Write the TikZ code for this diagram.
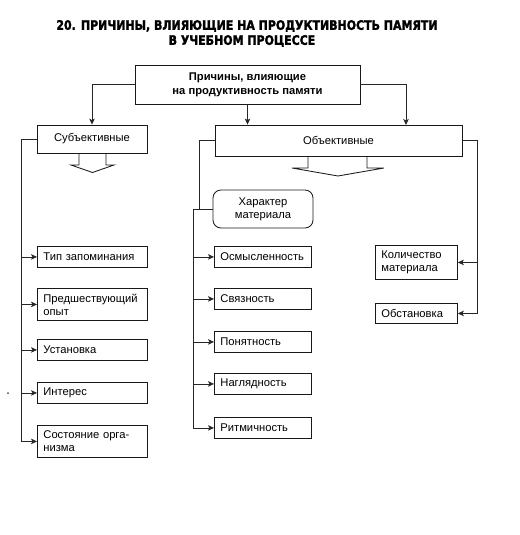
\documentclass[tikz,border=0pt]{standalone}
\usepackage{fontspec}
\setmainfont{Liberation Sans}
\newfontfamily\titlefont[BoldFeatures={FakeBold=2}]{DejaVu Sans}
\usetikzlibrary{arrows.meta}
\begin{document}
\begin{tikzpicture}[x=1pt,y=-1pt,
  boxline/.style={draw=black!90, line width=0.85pt},
  itembox/.style={boxline, anchor=north west, inner xsep=6pt, inner ysep=0pt, align=left, font=\fontsize{11.2}{13}\selectfont},
  mainbox/.style={boxline, inner sep=0pt, align=center, font=\fontsize{11.2}{13}\selectfont},
  conn/.style={draw=black!85, line width=0.75pt},
  arr/.style={conn, -{Stealth[length=6pt,width=5.5pt,inset=1.5pt]}},
  titlestyle/.style={font=\titlefont\bfseries\fontsize{13}{15}\selectfont, inner sep=0pt},
]
\useasboundingbox (0,0) rectangle (519,535);

% title
\node[titlestyle] (t1) at (247,26) {\scalebox{0.845}[1]{20. ПРИЧИНЫ, ВЛИЯЮЩИЕ НА ПРОДУКТИВНОСТЬ ПАМЯТИ}};
\node[titlestyle] (t2) at (242,41) {\scalebox{0.845}[1]{В УЧЕБНОМ ПРОЦЕССЕ}};

% main boxes
\node[mainbox, minimum width=225pt, minimum height=39pt, font=\bfseries\fontsize{11.2}{14}\selectfont] (top) at (247.5,84.5) {Причины, влияющие\\на продуктивность памяти};
\node[mainbox, minimum width=110pt, minimum height=28pt] (subj) at (92,139) {Субъективные};
\node[mainbox, minimum width=247pt, minimum height=31pt] (obj) at (338.5,140.5) {Объективные};
\node[mainbox, minimum width=100pt, minimum height=38pt, rounded corners=8pt] (har) at (263,209) {Характер\\материала};

% block arrows under boxes
\draw[boxline] (79,153) -- (79,165) -- (71,165) -- (92.5,172.5) -- (114,165) -- (106,165) -- (106,153);
\draw[boxline] (308,156) -- (308,168) -- (292,168) -- (338,176) -- (384,168) -- (367,168) -- (367,156);

% left items
\node[itembox, text width=98pt, minimum height=21pt] (l1) at (37,246) {Тип запоминания};
\node[itembox, text width=98pt, minimum height=32pt] (l2) at (37,288) {Предшествующий\\опыт};
\node[itembox, text width=98pt, minimum height=21pt] (l3) at (37,339) {Установка};
\node[itembox, text width=98pt, minimum height=21pt] (l4) at (37,382) {Интерес};
\node[itembox, text width=98pt, minimum height=32pt] (l5) at (37,425) {Состояние орга-\\низма};

% middle items
\node[itembox, text width=85pt, minimum height=21pt] (m1) at (214,246) {Осмысленность};
\node[itembox, text width=85pt, minimum height=21pt] (m2) at (214,288) {Связность};
\node[itembox, text width=85pt, minimum height=21pt] (m3) at (214,331) {Понятность};
\node[itembox, text width=85pt, minimum height=21pt] (m4) at (214,373) {Наглядность};
\node[itembox, text width=85pt, minimum height=21pt] (m5) at (214,417) {Ритмичность};

% right items
\node[itembox, text width=70pt, minimum height=34pt] (r1) at (375,245) {Количество\\материала};
\node[itembox, text width=70pt, minimum height=20pt] (r2) at (375,303) {Обстановка};

% junction coordinates
\coordinate (objr) at (406,125);
\coordinate (lx) at (21,0);
\coordinate (mx) at (199,0);
\coordinate (mt) at (193,0);
\coordinate (rx) at (477,0);

% top connectors
\draw[arr] (top.west) -| (subj.north);
\draw[arr] (top.south) -- (top.south |- obj.north);
\draw[arr] (top.east) -| (objr);

% left trunk
\draw[arr] (subj.west) -- (subj.west -| lx) -- (l5.west -| lx) -- (l5.west);
\foreach \n in {l1,l2,l3,l4} \draw[arr] (\n.west -| lx) -- (\n.west);

% middle trunk
\draw[conn] (obj.west) -- (obj.west -| mx) -- (har.west -| mx);
\draw[arr] (har.west) -- (har.west -| mt) -- (m5.west -| mt) -- (m5.west);
\foreach \n in {m1,m2,m3,m4} \draw[arr] (\n.west -| mt) -- (\n.west);

% right trunk
\draw[arr] (obj.east) -- (obj.east -| rx) -- (r2.east -| rx) -- (r2.east);
\draw[arr] (r1.east -| rx) -- (r1.east);

% stray dot
\fill[black!70] (8,393) circle (1pt);
\end{tikzpicture}
\end{document}
